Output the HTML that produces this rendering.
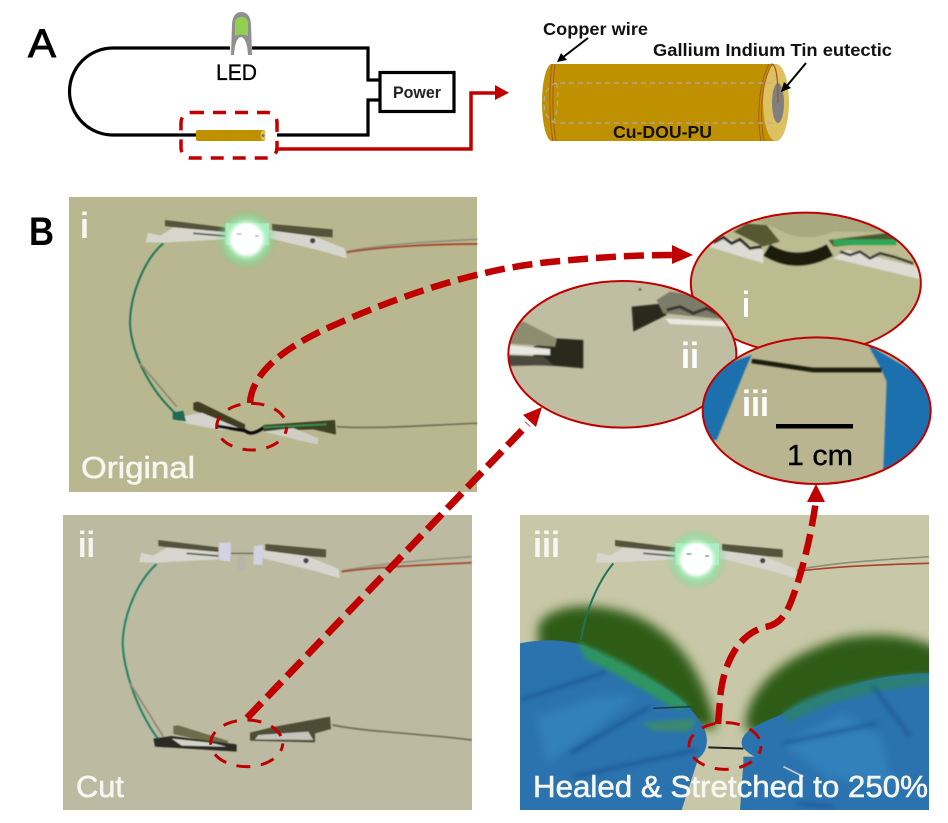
<!DOCTYPE html>
<html><head><meta charset="utf-8"><style>
html,body{margin:0;padding:0;background:#fff;width:948px;height:823px;overflow:hidden}
svg{display:block}
text{font-family:"Liberation Sans",sans-serif}
</style></head><body>
<svg width="948" height="823" viewBox="0 0 948 823" xmlns="http://www.w3.org/2000/svg">
<defs>
<filter id="b1" x="-10%" y="-10%" width="120%" height="120%"><feGaussianBlur stdDeviation="2.5"/></filter>
<filter id="b0" x="-10%" y="-10%" width="120%" height="120%"><feGaussianBlur stdDeviation="1.6"/></filter>
<filter id="b2" x="-30%" y="-30%" width="160%" height="160%"><feGaussianBlur stdDeviation="16"/></filter>
<filter id="b3" x="-30%" y="-30%" width="160%" height="160%"><feGaussianBlur stdDeviation="12"/></filter>
<filter id="b4" x="-30%" y="-30%" width="160%" height="160%"><feGaussianBlur stdDeviation="7"/></filter>
<radialGradient id="glow"><stop offset="0" stop-color="#fff"/><stop offset=".48" stop-color="#fff"/><stop offset=".66" stop-color="#8ff0ae" stop-opacity=".65"/><stop offset="1" stop-color="#55d880" stop-opacity="0"/></radialGradient>
<clipPath id="cA"><ellipse cx="917.5" cy="250" rx="345" ry="212"/></clipPath>
<clipPath id="cB"><ellipse cx="367" cy="463" rx="342" ry="220"/></clipPath>
<clipPath id="cC"><ellipse cx="950" cy="632" rx="342" ry="220"/></clipPath>
<clipPath id="p3"><rect x="30" y="15" width="1227" height="885"/></clipPath>

<g id="tc">
  <polygon points="258,157 263,128 300,137 345,110 495,125 495,148 310,158" fill="#d6d6cf"/>
  <polygon points="315,90 495,112 495,126 345,112 315,108" fill="#55533a"/>
  <path d="M400,130L495,138" stroke="#555" stroke-width="5"/>
  <polygon points="628,120 760,138 855,176 860,205 780,182 630,145" fill="#d6d6cf"/>
  <polygon points="636,102 818,118 818,142 760,138 636,122" fill="#55533a"/>
  <circle cx="758" cy="152" r="8" fill="#444"/>
</g>
<g id="gl">
  <rect x="497" y="100" width="130" height="65" fill="#d8efe0"/>
  <circle cx="560" cy="148" r="92" fill="url(#glow)"/>
  <path d="M530,132h14M585,138h12" stroke="#1f9a5a" stroke-width="3"/>
</g>
</defs>
<rect width="948" height="823" fill="#fff"/>

<!-- Panel A circuit -->
<path d="M252,48H368V80H380M380,100H368V135H277M196,135H113A43.5,43.5 0 0 1 113,48H230" fill="none" stroke="#000" stroke-width="3.2"/>
<rect x="380" y="72.5" width="74" height="39" fill="#fff" stroke="#000" stroke-width="3.2"/>
<text x="393" y="98" font-size="16.500" font-weight="bold" textLength="48" lengthAdjust="spacingAndGlyphs" fill="#222">Power</text>
<path d="M231,55 L232,24 Q233,12 241,12 Q250,12 251,24 L252,55 L248,55 Q247,38 241,37 Q235,38 234,55 Z" fill="#8f8f8f"/>
<path d="M235,36 L235,24 Q235,17 241.500,17 Q248,17 248,24 L248,36 Q241,33 235,36Z" fill="#92d050"/>
<text x="216" y="80" font-size="22" textLength="41" lengthAdjust="spacingAndGlyphs" fill="#000" stroke="#000" stroke-width=".3">LED</text>
<rect x="181" y="112.500" width="96" height="45.500" rx="10" fill="none" stroke="#c00000" stroke-width="3.500" stroke-dasharray="13 9"/>
<rect x="196" y="130" width="69" height="11" rx="2" fill="#bf9000"/>
<ellipse cx="263" cy="135.500" rx="2.500" ry="5" fill="#dfc060"/>
<circle cx="263" cy="135.500" r="1.500" fill="#777"/>
<path d="M278,149H471V93H496" fill="none" stroke="#c00000" stroke-width="3.500"/>
<polygon points="495,85 509,92.700 495,100" fill="#c00000"/>
<text x="28" y="57" font-size="40" fill="#000" stroke="#000" stroke-width=".9" textLength="28" lengthAdjust="spacingAndGlyphs">A</text>

<!-- Cylinder -->
<rect x="552" y="64" width="225" height="77" fill="#bf9000"/>
<ellipse cx="552" cy="102.500" rx="10" ry="38.500" fill="#bf9000"/>
<ellipse cx="776" cy="102.500" rx="13" ry="38.500" fill="#dfc060"/>
<ellipse cx="778" cy="103" rx="6" ry="20" fill="#7f7f7f"/>
<path d="M552,64C549,85 549,120 553,141M555,64C552,85 552,120 556,141M769,64C758,85 757,120 761,141M772,64C760,85 760,120 764,141" fill="none" stroke="#a55d20" stroke-width="1"/>
<path d="M771,64C776,64 778,75 778,103" fill="none" stroke="#a0561e" stroke-width="1.200"/>
<path d="M772,83H556C548,85 544,95 544,103C544,112 548,121 556,123H772M556,83C560,90 557,116 553,123" fill="none" stroke="#b0aca0" stroke-width="1.200" stroke-dasharray="5 4"/>
<text x="543" y="35" font-size="17.500" font-weight="bold" textLength="105" lengthAdjust="spacingAndGlyphs" fill="#111">Copper wire</text>
<text x="653" y="56" font-size="17.500" font-weight="bold" textLength="239" lengthAdjust="spacingAndGlyphs" fill="#111">Gallium Indium Tin eutectic</text>
<text x="613" y="138" font-size="17.500" font-weight="bold" textLength="99" lengthAdjust="spacingAndGlyphs" fill="#111">Cu-DOU-PU</text>
<path d="M588,38L562,58" stroke="#000" stroke-width="2"/>
<polygon points="557,62 561,53 567,60" fill="#000"/>
<path d="M806,63L786,87" stroke="#000" stroke-width="2"/>
<polygon points="781,92 784,82 791,88" fill="#000"/>

<text x="29" y="245" font-size="40" font-weight="bold" fill="#000" textLength="25" lengthAdjust="spacingAndGlyphs">B</text>

<!-- Photo i -->
<rect x="69" y="197" width="408" height="295" fill="#b9b78f"/>
<g transform="translate(60,190) scale(.33333)">
 <g filter="url(#b0)">
  <use href="#tc"/>
  <path d="M860,185C950,165 1100,155 1252,148" fill="none" stroke="#8f8e78" stroke-width="5"/>
  <path d="M860,187C950,172 1100,162 1252,162" fill="none" stroke="#a8402c" stroke-width="5"/>
  <path d="M310,160C250,210 210,320 210,400C215,500 280,620 370,690" fill="none" stroke="#1f7458" stroke-width="6"/>
  <path d="M240,520L350,650" fill="none" stroke="#8b8a70" stroke-width="5"/>
  <polygon points="400,638 415,635 555,703 555,724 400,660" fill="#3f3e24"/>
  <polygon points="340,685 425,668 555,722 470,718 380,700" fill="#d4d4cc"/>
  <polygon points="338,668 370,662 378,695 338,688" fill="#1f6b55"/>
  <path d="M470,708L555,722Q575,740 612,712" fill="none" stroke="#111" stroke-width="10"/>
  <polygon points="610,705 825,690 828,734 760,718 610,724" fill="#3f4024"/>
  <path d="M610,712L800,703" stroke="#2e9a55" stroke-width="5"/>
  <polygon points="610,725 700,714 775,745 772,764" fill="#cfcfc6"/>
  <path d="M830,710C950,718 1100,705 1252,700" fill="none" stroke="#6e6f58" stroke-width="5"/>
  <use href="#gl"/>
 </g>
 <ellipse cx="575" cy="710" rx="105" ry="70" fill="none" stroke="#c00000" stroke-width="9" stroke-dasharray="40 32" stroke-dashoffset="18"/>
</g>

<!-- Photo ii -->
<rect x="63" y="515" width="409" height="295" fill="#bcbaa0"/>
<g transform="translate(55,510) scale(.33333)">
 <g filter="url(#b0)">
  <g transform="translate(-5,0)"><use href="#tc"/></g>
  <polygon points="492,98 528,98 526,155 492,150" fill="#d2d3e2"/>
  <polygon points="597,108 625,105 622,165 595,163" fill="#d2d3e2"/>
  <path d="M528,130L595,130" stroke="#555" stroke-width="3"/>
  <ellipse cx="558" cy="158" rx="14" ry="24" fill="#b5b6a8"/>
  <path d="M860,183C950,165 1100,150 1250,140" fill="none" stroke="#94937c" stroke-width="5"/>
  <path d="M860,185C950,172 1100,165 1250,158" fill="none" stroke="#a8402c" stroke-width="5"/>
  <path d="M305,162C245,215 203,320 203,405C210,510 265,640 330,712" fill="none" stroke="#1f8268" stroke-width="6"/>
  <path d="M225,520L325,680" fill="none" stroke="#8b8a70" stroke-width="5"/>
  <polygon points="355,648 370,646 520,693 515,708 355,672" fill="#6d6c4c"/>
  <polygon points="295,686 350,678 545,703 545,725 300,710" fill="#2a2a20"/>
  <polygon points="350,686 465,698 515,710 380,707" fill="#d4d4cc"/>
  <polygon points="585,668 660,650 825,620 828,657 780,670 780,697 585,692" fill="#4e4d34"/>
  <polygon points="610,675 760,665 775,690 600,688" fill="#c4c4bc"/>
  <path d="M832,645C950,668 1100,670 1250,690" fill="none" stroke="#6e6f58" stroke-width="5"/>
 </g>
 <ellipse cx="575" cy="700" rx="108" ry="70" fill="none" stroke="#c00000" stroke-width="9" stroke-dasharray="42 32" stroke-dashoffset="18"/>
</g>

<!-- Photo iii -->
<rect x="520" y="515" width="409" height="295" fill="#c8c8a8"/>
<g transform="translate(510,510) scale(.33333)">
 <g clip-path="url(#p3)">
  <path d="M85,345C120,285 240,270 370,315C500,370 580,480 620,660L300,600L85,520Z" fill="#2f5c12" filter="url(#b2)"/>
  <path d="M705,660C705,530 830,430 1000,385C1100,365 1220,375 1300,425L1300,620L900,700Z" fill="#2f5c12" filter="url(#b2)"/>
  <path d="M30,400C100,385 200,385 270,430C350,480 500,530 560,620C600,665 600,720 565,745L515,900H30Z" fill="#2b73ae"/>
  <path d="M1257,490C1100,490 950,540 800,620C720,650 680,680 700,715C730,745 780,760 810,785L855,900H690L700,760L1000,900H1257Z" fill="#2b73ae"/>
  <rect x="700" y="740" width="557" height="160" fill="#2b73ae"/>
  <path d="M200,395C290,430 440,500 540,590L500,600C400,540 300,480 230,450Z" fill="#2e9460" filter="url(#b4)"/>
  <path d="M395,640L560,625L540,665L430,660Z" fill="#3a8a6c" filter="url(#b4)"/>
  <path d="M820,610C900,540 1100,495 1257,490L1257,525C1100,535 950,575 830,640Z" fill="#2a7f76" filter="url(#b4)"/>
  <path d="M80,620L260,560L380,560L200,700L110,760Z" fill="#3380bc" filter="url(#b3)"/>
  <path d="M820,700L1000,610L1110,680L1150,830L950,800Z" fill="#3380bc" filter="url(#b3)"/>
  <path d="M30,570L290,485M180,730L420,590M190,800L560,720M1090,530L1200,680M820,700L1100,640M860,880L970,890" fill="none" stroke="#1d5590" stroke-width="9" filter="url(#b4)"/>
  <path d="M430,595L540,590" stroke="#163a30" stroke-width="4"/>
  <path d="M820,770L880,800" stroke="#ccc" stroke-width="5"/>
  <use href="#tc" filter="url(#b0)"/>
  <path d="M862,180C950,160 1100,150 1257,140" fill="none" stroke="#8f8e78" stroke-width="5"/>
  <path d="M862,184C950,172 1100,164 1257,160" fill="none" stroke="#a8402c" stroke-width="5"/>
  <path d="M310,160C260,220 225,310 213,390" fill="none" stroke="#1f7458" stroke-width="6"/>
  <path d="M595,712L700,716" stroke="#222" stroke-width="6"/>
  <use href="#gl"/>
 </g>
 <ellipse cx="645" cy="708" rx="108" ry="70" fill="none" stroke="#c00000" stroke-width="9" stroke-dasharray="42 32" stroke-dashoffset="18"/>
</g>

<!-- Panel labels -->
<g fill="#f6f6f2">
<text x="80" y="238" font-size="36" font-weight="bold" textLength="9" lengthAdjust="spacingAndGlyphs">i</text>
<text x="81" y="478" font-size="31" stroke="#f6f6f2" stroke-width=".6" textLength="114" lengthAdjust="spacingAndGlyphs">Original</text>
<text x="78" y="557" font-size="36" font-weight="bold" textLength="17" lengthAdjust="spacingAndGlyphs">ii</text>
<text x="76" y="797" font-size="31" stroke="#f6f6f2" stroke-width=".6" textLength="48" lengthAdjust="spacingAndGlyphs">Cut</text>
<text x="533" y="557" font-size="36" font-weight="bold" textLength="27" lengthAdjust="spacingAndGlyphs">iii</text>
<text x="533" y="797" font-size="31" stroke="#f6f6f2" stroke-width=".6" textLength="395" lengthAdjust="spacingAndGlyphs">Healed &amp; Stretched to 250%</text>
</g>

<!-- Connectors -->
<g fill="none" stroke="#c00000" stroke-width="6.500">
<path d="M250,403C252,370 290,345 330,327C390,300 470,270 550,262C590,258 630,255 675,255" stroke-dasharray="20 8"/>
<path d="M247,718L528,424" stroke-dasharray="21 8" stroke-width="7"/>
<path d="M718,724L720,700C722,670 735,635 765,627C785,624 790,605 797,585C805,560 812,530 816,500" stroke-dasharray="21 8"/>
</g>
<polygon points="672,245 693,255 672,264" fill="#c00000"/>
<polygon points="523,415 536,427 542,407" fill="#c00000"/>
<polygon points="807,502 816,484 825,502" fill="#c00000"/>

<!-- Magnified circles -->
<g transform="translate(500,200) scale(.33333)">
 <g clip-path="url(#cA)"><g filter="url(#b1)">
  <rect x="560" y="30" width="720" height="440" fill="#bdbb90"/>
  <path d="M720,30H1180V95H1000C950,118 880,118 830,85L760,60Z" fill="#a8a97e"/>
  <polygon points="740,70 800,75 840,125 790,140 700,95" fill="#565832"/>
  <polygon points="985,120 1190,95 1190,125 1000,140" fill="#4a5a30"/>
  <polygon points="625,140 670,110 790,150 790,190" fill="#dcdcd4"/>
  <path d="M640,128L670,112L695,130L720,118L750,145L785,140" fill="none" stroke="#222" stroke-width="9"/>
  <path d="M800,150Q890,205 990,150" fill="none" stroke="#1a1a10" stroke-width="40"/>
  <rect x="1000" y="118" width="190" height="18" fill="#2fa858"/>
  <polygon points="1000,175 1040,150 1270,205 1270,240" fill="#dcdcd4"/>
  <path d="M1020,155L1050,165L1080,155L1110,175L1140,160L1180,170L1240,190" fill="none" stroke="#333" stroke-width="8"/>
 </g></g>
 <ellipse cx="917.500" cy="250" rx="345" ry="212" fill="none" stroke="#c00000" stroke-width="6"/>

 <ellipse cx="367" cy="463" rx="342" ry="220" fill="#c0bea2"/>
 <g clip-path="url(#cB)"><g filter="url(#b1)">
  <polygon points="170,415 250,420 250,505 170,498 100,495 100,440" fill="#2a2a1c"/>
  <polygon points="20,355 70,365 170,415 165,440 20,430" fill="#8e8c6e"/>
  <polygon points="20,435 150,447 150,465 20,462" fill="#e8e8e2"/>
  <polygon points="20,465 130,470 160,495 20,498" fill="#4b4a3c"/>
  <polygon points="395,320 490,310 500,345 400,395" fill="#2a2a1c"/>
  <polygon points="470,300 510,275 700,300 700,360 490,340" fill="#7d7c68"/>
  <path d="M500,330L540,320L580,340L620,325L660,345" fill="none" stroke="#333" stroke-width="9"/>
  <polygon points="495,355 680,365 690,380 510,372" fill="#e8e8e2"/>
  <circle cx="420" cy="268" r="4" fill="#555"/>
 </g></g>
 <ellipse cx="367" cy="463" rx="342" ry="220" fill="none" stroke="#c00000" stroke-width="6"/>

 <ellipse cx="950" cy="632" rx="342" ry="220" fill="#b8b590"/>
 <g clip-path="url(#cC)"><g filter="url(#b1)">
  <polygon points="600,520 755,465 735,510 650,720 600,720" fill="#1f6fae"/>
  <polygon points="1105,435 1300,550 1300,830 1150,810 1160,545 1145,510" fill="#1f6fae"/>
  <path d="M755,483L940,510L1145,510" fill="none" stroke="#1f1c10" stroke-width="14"/>
 </g></g>
 <ellipse cx="950" cy="632" rx="342" ry="220" fill="none" stroke="#c00000" stroke-width="6"/>
</g>

<text x="742" y="317" font-size="36" font-weight="bold" fill="#fff" textLength="8" lengthAdjust="spacingAndGlyphs">i</text>
<text x="681" y="368" font-size="36" font-weight="bold" fill="#fff" textLength="18" lengthAdjust="spacingAndGlyphs">ii</text>
<text x="742" y="416" font-size="36" font-weight="bold" fill="#fff" textLength="27" lengthAdjust="spacingAndGlyphs">iii</text>
<rect x="776" y="424" width="77" height="4.500" fill="#000"/>
<text x="787" y="465" font-size="29" fill="#000" stroke="#000" stroke-width=".4" textLength="66" lengthAdjust="spacingAndGlyphs">1 cm</text>
</svg>
</body></html>
